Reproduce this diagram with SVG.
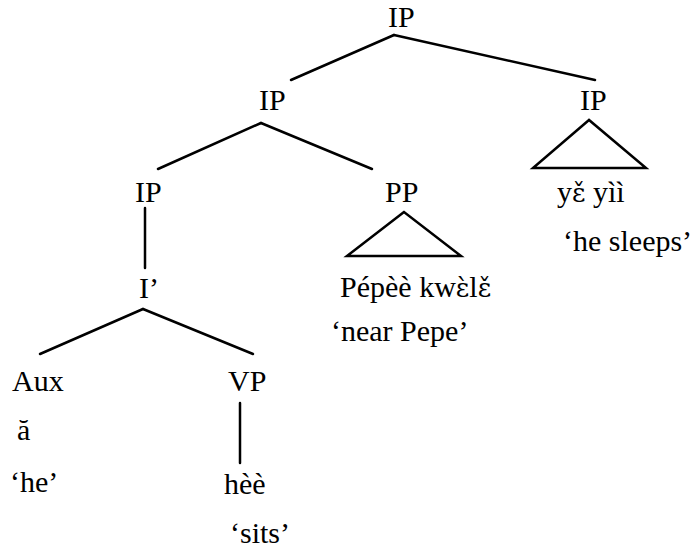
<svg xmlns="http://www.w3.org/2000/svg" width="698" height="552" viewBox="0 0 698 552">
<style>
text{font-family:"Liberation Serif","DejaVu Serif",serif;font-size:30px;fill:#000}
.ipa{font-family:"DejaVu Serif",serif;font-size:26px}
.e{stroke:#000;stroke-width:2.5;fill:none;stroke-linecap:round;stroke-linejoin:miter}
</style>
<rect width="698" height="552" fill="#fff"/>
<g id="connectors">
<line class="e" x1="394" y1="35" x2="291" y2="80"/>
<line class="e" x1="394" y1="35" x2="595" y2="80"/>
<line class="e" x1="261" y1="123" x2="158" y2="169"/>
<line class="e" x1="261" y1="123" x2="372" y2="169"/>
<line class="e" x1="145" y1="208" x2="145" y2="268"/>
<line class="e" x1="143" y1="309" x2="40" y2="354"/>
<line class="e" x1="143" y1="309" x2="253" y2="354"/>
<line class="e" x1="240" y1="403" x2="240" y2="463"/>
<polygon class="e" points="589,120 533,168 646,168"/>
<polygon class="e" points="404,212 347,256 461,256"/>
</g>
<g id="ip-top"><text x="388" y="27">IP</text></g>
<g id="ip-mid"><text x="259" y="110">IP</text></g>
<g id="ip-right"><text x="580" y="110">IP</text></g>
<g id="ip-low"><text x="135" y="202">IP</text></g>
<g id="pp"><text x="385" y="202">PP</text></g>
<g id="ibar"><text x="139" y="298">I’</text></g>
<g id="aux"><text x="12" y="391">Aux</text></g>
<g id="vp"><text x="228" y="391">VP</text></g>
<g id="a-he"><text x="17" y="440">ă</text><text x="10" y="492">‘he’</text></g>
<g id="hee-sits"><text x="224" y="494">hèè</text><text x="230" y="543">‘sits’</text></g>
<g id="pp-words"><text x="340" y="297">Pépèè kw<tspan class="ipa">ɛ̀</tspan>l<tspan class="ipa">ɛ̌</tspan></text><text x="331" y="341">‘near Pepe’</text></g>
<g id="ip-words"><text x="557" y="202">y<tspan class="ipa">ɛ̌</tspan> yìì</text><text x="563" y="251">‘he sleeps’</text></g>
</svg>
